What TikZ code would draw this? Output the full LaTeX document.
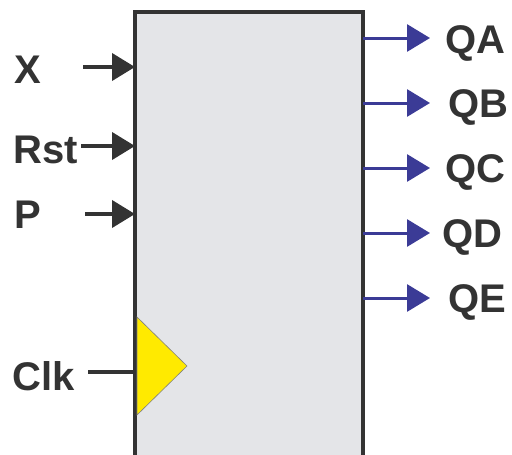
\documentclass[tikz,border=0pt]{standalone}
\usepackage{fontspec}
\setmainfont{Liberation Sans}
\usetikzlibrary{arrows.meta}
\definecolor{boxfill}{HTML}{E4E5E8}
\definecolor{edge}{HTML}{333333}
\definecolor{outblue}{HTML}{3B3B96}
\definecolor{clkyellow}{HTML}{FFEA00}
\begin{document}
\begin{tikzpicture}[x=1pt,y=-1pt,
  lbl/.style={font=\fontsize{40}{40}\selectfont\bfseries, text=edge, inner sep=0pt, anchor=base west},
  inarrow/.style={draw=edge, line width=4pt, -{Triangle[length=23pt,width=27pt]}},
  outarrow/.style={draw=outblue, line width=3pt, -{Triangle[length=23pt,width=27pt]}},
  clkline/.style={draw=edge, line width=4pt}]
\useasboundingbox (0,0) rectangle (512,455);
\clip (0,0) rectangle (512,455);
\node (box) [draw=edge, fill=boxfill, line width=3.5pt, outer sep=0pt, inner sep=0pt,
  minimum width=228pt, minimum height=470pt, anchor=north west] at (135,12) {};
% clock triangle
\path[fill=clkyellow, draw=gray, line width=0.6pt] (137,317) -- (187,366) -- (137,415) -- cycle;
% inputs
\node (lx) [lbl] at (14,83) {X};
\node (lrst) [lbl] at (13,163) {Rst};
\node (lp) [lbl] at (14,228) {P};
\node (lclk) [lbl] at (12,390) {Clk};
\coordinate (xin) at (83,67);
\coordinate (rin) at (81,146);
\coordinate (pin) at (85,214);
\coordinate (cin) at (88,372);
\draw[inarrow] (xin) -- (xin -| box.west);
\draw[inarrow] (rin) -- (rin -| box.west);
\draw[inarrow] (pin) -- (pin -| box.west);
\draw[clkline] (cin) -- (cin -| box.west);
% outputs
\coordinate (qa) at (430,38);
\coordinate (qb) at (430,103);
\coordinate (qc) at (430,168);
\coordinate (qd) at (430,233);
\coordinate (qe) at (430,298);
\draw[outarrow] (qa -| box.east) -- (qa);
\draw[outarrow] (qb -| box.east) -- (qb);
\draw[outarrow] (qc -| box.east) -- (qc);
\draw[outarrow] (qd -| box.east) -- (qd);
\draw[outarrow] (qe -| box.east) -- (qe);
\node (lqa) [lbl] at (445,53) {QA};
\node (lqb) [lbl] at (448,117) {QB};
\node (lqc) [lbl] at (445,182) {QC};
\node (lqd) [lbl] at (442,247) {QD};
\node (lqe) [lbl] at (448,312) {QE};
\end{tikzpicture}
\end{document}
